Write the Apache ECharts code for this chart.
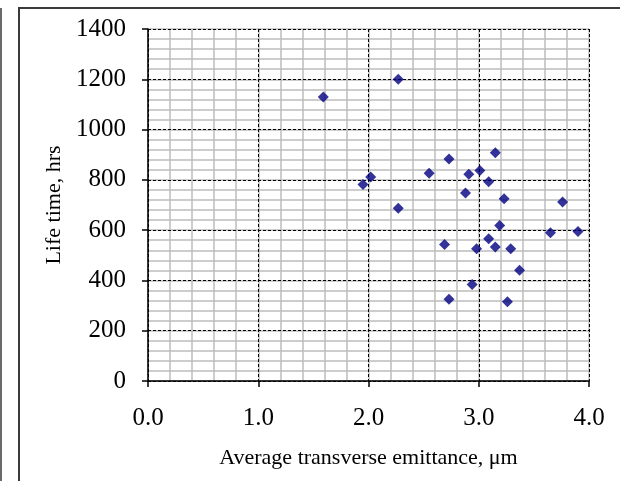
<!DOCTYPE html>
<html>
<head>
<meta charset="utf-8">
<script src="https://cdn.jsdelivr.net/npm/echarts@6/dist/echarts.min.js"></script>
<style>html,body{margin:0;padding:0;background:#fff;}#c{width:620px;height:481px;}</style>
</head>
<body>
<div id="c"></div>
<script>
const emittance = [1.59, 2.27, 1.95, 2.02, 2.27, 2.55, 2.73, 2.69, 2.73, 2.88, 2.91, 3.01, 3.09, 3.15, 3.23, 3.19, 3.09, 2.98, 3.15, 3.29, 3.37, 2.94, 3.26, 3.65, 3.76, 3.90];
const lifetime  = [1130, 1200, 782, 811, 687, 826, 883, 543, 325, 748, 822, 837, 792, 908, 725, 618, 566, 526, 533, 526, 440, 384, 315, 590, 712, 595];
const xTitle = 'Average transverse emittance, \u03bcm';
const yTitle = 'Life time, hrs';

const points = emittance.map((x, i) => [x, lifetime[i]]);
const FONT = 'Liberation Serif';
const chart = echarts.init(document.getElementById('c'), null, {renderer: 'canvas'});
chart.setOption({
  animation: false,
  backgroundColor: '#fff',
  grid: {left: 148, right: 31, top: 29, bottom: 100, containLabel: false},
  xAxis: [
    {type: 'value', min: 0, max: 4, interval: 0.2, position: 'bottom', z: 1,
     axisLine: {show: false}, axisTick: {show: false}, axisLabel: {show: false},
     splitLine: {show: true, lineStyle: {color: '#bdbdbd', width: 1.5, type: 'solid'}}},
    {type: 'value', min: 0, max: 4, interval: 1, position: 'bottom', z: 3,
     name: xTitle, nameLocation: 'middle', nameGap: 66,
     nameTextStyle: {fontFamily: FONT, fontSize: 22, color: '#000'},
     axisLine: {show: true, onZero: false, lineStyle: {color: '#000', width: 1.5}},
     axisTick: {show: true, inside: false, length: 6, lineStyle: {color: '#000', width: 1.5}},
     axisLabel: {margin: 25, fontFamily: FONT, fontSize: 25, color: '#000', formatter: v => v.toFixed(1)},
     splitLine: {show: true, lineStyle: {color: '#000', width: 1, type: [3, 2]}}}
  ],
  yAxis: [
    {type: 'value', min: 0, max: 1400, interval: 40, z: 1,
     axisLine: {show: false}, axisTick: {show: false}, axisLabel: {show: false},
     splitLine: {show: true, lineStyle: {color: '#bdbdbd', width: 1.5, type: 'solid'}}},
    {type: 'value', min: 0, max: 1400, interval: 200, position: 'left', z: 3,
     name: yTitle, nameLocation: 'middle', nameGap: 78, nameRotate: 90,
     nameTextStyle: {fontFamily: FONT, fontSize: 22, color: '#000'},
     axisLine: {show: true, onZero: false, lineStyle: {color: '#000', width: 1.5}},
     axisTick: {show: true, inside: false, length: 6, lineStyle: {color: '#000', width: 1.5}},
     axisLabel: {margin: 22, fontFamily: FONT, fontSize: 25, color: '#000', formatter: v => String(v)},
     splitLine: {show: true, lineStyle: {color: '#000', width: 1, type: [3, 2]}}}
  ],
  series: [{
    type: 'scatter', xAxisIndex: 1, yAxisIndex: 1, data: points, z: 5,
    symbol: 'diamond', symbolSize: [11, 11],
    itemStyle: {color: '#000080'}
  }],
  graphic: [
    {type: 'rect', shape: {x: 19, y: 8, width: 700, height: 600}, style: {fill: 'none', stroke: '#3a3a3a', lineWidth: 2}, silent: true, z: 10},
    {type: 'line', shape: {x1: 1, y1: 8, x2: 1, y2: 481}, style: {stroke: '#6a6a6a', lineWidth: 2}, silent: true, z: 10}
  ]
});
</script>
</body>
</html>
